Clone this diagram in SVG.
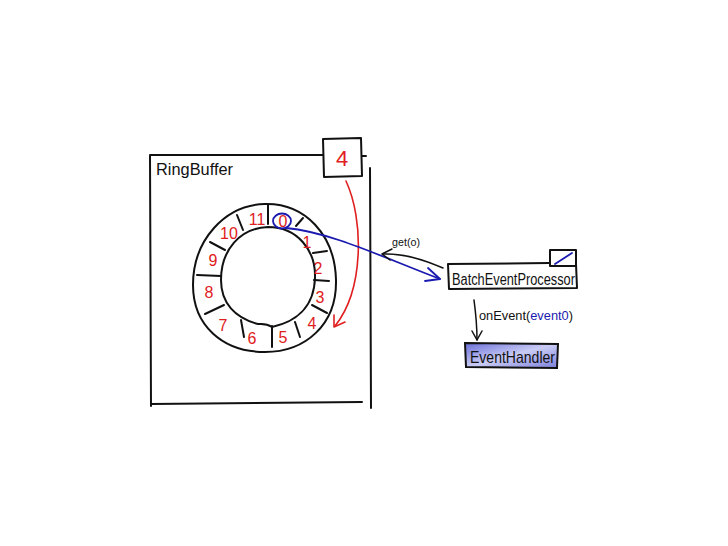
<svg xmlns="http://www.w3.org/2000/svg" width="728" height="546" viewBox="0 0 728 546">
<defs>
<style>
.ink{fill:none;stroke:#111;stroke-width:2;stroke-linecap:round;stroke-linejoin:round}
.red{fill:none;stroke:#e02020;stroke-width:1.6;stroke-linecap:round;stroke-linejoin:round}
.blue{fill:none;stroke:#1a1ab0;stroke-width:1.8;stroke-linecap:round;stroke-linejoin:round}
.thin{fill:none;stroke:#111;stroke-width:1.5;stroke-linecap:round;stroke-linejoin:round}
.num{font-family:"Liberation Sans",Arial,sans-serif;font-size:16px;fill:#e02020;text-anchor:middle}
.lbl{font-family:"Liberation Sans",Arial,sans-serif;fill:#111}
</style>
<linearGradient id="eh" x1="0" y1="0" x2="1" y2="1">
<stop offset="0" stop-color="#6a6fd8"/>
<stop offset="0.5" stop-color="#c9cbf4"/>
<stop offset="1" stop-color="#7c80dc"/>
</linearGradient>
</defs>
<rect width="728" height="546" fill="#fff"/>

<g id="ringbuffer">
<path class="ink" d="M150 156 L151 406"/>
<path class="ink" d="M150 155 L323 155"/>
<path class="ink" d="M362 156 L366 156"/>
<path class="ink" d="M370 168 L371 408"/>
<path class="ink" d="M151 404 L362 402"/>
<text class="lbl" x="156" y="175" font-size="17" textLength="77" lengthAdjust="spacingAndGlyphs">RingBuffer</text>
</g>

<g id="sequence">
<path class="ink" d="M323 139 L361 138 L362 176 L324 177 Z"/>
<text x="342" y="166" font-family="Liberation Sans,Arial,sans-serif" font-size="22" fill="#e02020" text-anchor="middle">4</text>
</g>

<g id="ring">
<path class="ink" d="M265 204 C305 203,335 235,336 280 C337 325,305 352,265 352 C222 352,193 325,193 285 C193 240,225 205,265 204 Z"/>
<path class="ink" d="M268 227 C297 227,316 250,315 278 C314 308,295 322,272 327 C266 323,262 324,258 324 C235 318,221 303,221 280 C221 250,240 228,268 227 Z"/>
<path class="ink" d="M268 205 L268 224"/>
<path class="ink" d="M296 226 L303 218"/>
<path class="ink" d="M313 253 L327 251"/>
<path class="ink" d="M314 280 L329 281"/>
<path class="ink" d="M312 305 L327 313"/>
<path class="ink" d="M295 322 L300 337"/>
<path class="ink" d="M272 326 L272 347"/>
<path class="ink" d="M241 320 L244 337"/>
<path class="ink" d="M205 314 L224 305"/>
<path class="ink" d="M197 275 L221 276"/>
<path class="ink" d="M210 242 L225 250"/>
<path class="ink" d="M237 215 L243 230"/>
<text class="num" x="283" y="227">0</text>
<text class="num" x="307" y="248">1</text>
<text class="num" x="318" y="274">2</text>
<text class="num" x="320" y="303">3</text>
<text class="num" x="312" y="329">4</text>
<text class="num" x="283" y="343">5</text>
<text class="num" x="252" y="344">6</text>
<text class="num" x="223" y="331">7</text>
<text class="num" x="209" y="298">8</text>
<text class="num" x="213" y="266">9</text>
<text class="num" x="229" y="239">10</text>
<text class="num" x="257" y="225">11</text>
</g>

<g id="batcheventprocessor">
<path class="ink" d="M448 264 L549 263 M576 264 L577 288 L449 289 L448 264"/>
<path class="ink" d="M550 250 L576 250 L576 266 L550 266 Z"/>
<path class="blue" d="M555 264 L572 253"/>
<text class="lbl" x="452" y="285" font-size="16" textLength="123" lengthAdjust="spacingAndGlyphs">BatchEventProcessor</text>
</g>

<g id="eventhandler">
<path d="M465 343 L558 344 L557 368 L466 367 Z" fill="url(#eh)" stroke="#111" stroke-width="2"/>
<text class="lbl" x="470" y="363" font-size="17" textLength="85" lengthAdjust="spacingAndGlyphs">EventHandler</text>
</g>

<g id="connectors">
<path class="red" d="M346 181 C364 220,364 290,335 326"/>
<path class="red" d="M334 315 L334 327 L345 322"/>
<ellipse class="blue" cx="282" cy="221" rx="9" ry="7.5"/>
<path class="blue" d="M286 228 C330 232,380 256,440 279"/>
<path class="blue" d="M428 268 L440 279 L425 281"/>
<path class="thin" d="M443 268 C420 258,400 253,383 254"/>
<path class="thin" d="M392 249 L382 254 L390 260"/>
<text class="lbl" x="392" y="246" font-size="11" textLength="28" lengthAdjust="spacingAndGlyphs">get(o)</text>
<path class="thin" d="M474 300 C476 315,477 328,477 340"/>
<path class="thin" d="M472 331 L477 340 L482 331"/>
<text class="lbl" x="479" y="320" font-size="13" textLength="94" lengthAdjust="spacingAndGlyphs">onEvent(<tspan fill="#1a1ab0">event0</tspan>)</text>
</g>
</svg>
